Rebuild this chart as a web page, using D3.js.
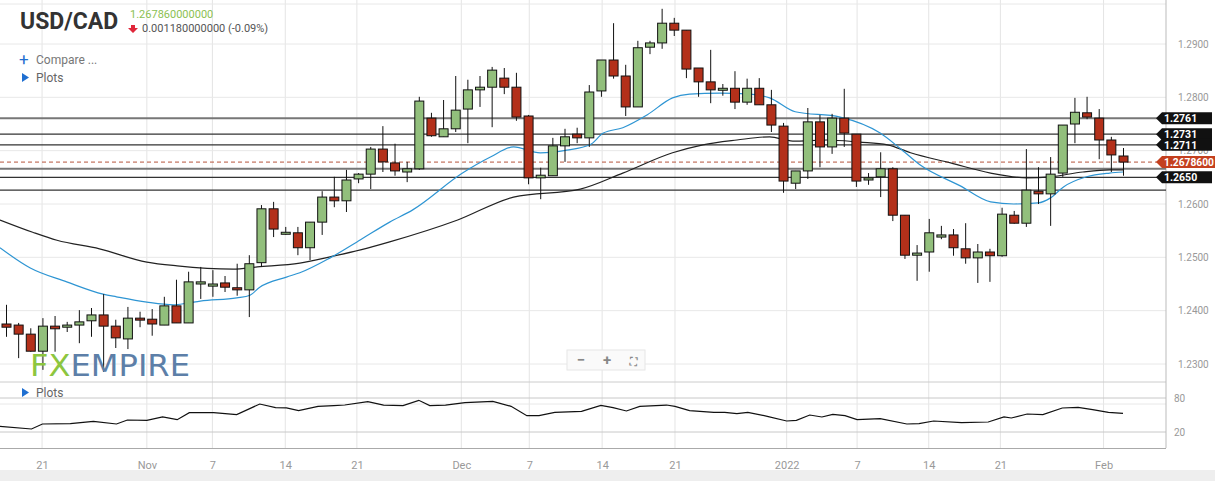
<!DOCTYPE html>
<html>
<head>
<meta charset="utf-8">
<script src="https://cdn.jsdelivr.net/npm/d3@7"></script>
<style>
  body { margin: 0; background: #fff; font-family: Roboto, "Noto Sans", sans-serif; }
  svg text { font-family: Roboto, "Noto Sans", sans-serif; }
</style>
</head>
<body>
<div id="chart"></div>
<script>
// OHLC, one candle per session (Sunday sessions included), 18 Oct 2021 .. 3 Feb 2022
var opens = [1.2375,1.2373,1.2356,1.2324,1.2371,1.2369,1.2373,1.2381,1.2392,1.2371,1.2347,1.2386,1.2384,1.2373,1.2409,1.2377,1.2450,1.2446,1.2452,1.2443,1.2439,1.2490,1.2591,1.2544,1.2546,1.2518,1.2566,1.2613,1.2606,1.2647,1.2656,1.2703,1.2677,1.2660,1.2666,1.2761,1.2726,1.2741,1.2778,1.2814,1.2819,1.2836,1.2819,1.2765,1.2649,1.2653,1.2709,1.2731,1.2724,1.2812,1.2870,1.2840,1.2782,1.2894,1.2902,1.2939,1.2926,1.2855,1.2829,1.2814,1.2817,1.2791,1.2817,1.2786,1.2746,1.2639,1.2662,1.2754,1.2707,1.2761,1.2731,1.2645,1.2651,1.2666,1.2579,1.2504,1.2510,1.2538,1.2542,1.2516,1.2499,1.2510,1.2503,1.2579,1.2564,1.2624,1.2619,1.2658,1.2750,1.2771,1.2761,1.2720,1.2690];
var highs = [1.2411,1.2377,1.2367,1.2386,1.2390,1.2379,1.2401,1.2405,1.2431,1.2383,1.2407,1.2398,1.2403,1.2426,1.2458,1.2473,1.2482,1.2476,1.2465,1.2488,1.2504,1.2598,1.2604,1.2557,1.2557,1.2566,1.2624,1.2651,1.2664,1.2658,1.2707,1.2746,1.2713,1.2679,1.2801,1.2771,1.2795,1.2840,1.2833,1.2840,1.2857,1.2855,1.2846,1.2767,1.2668,1.2724,1.2741,1.2743,1.2823,1.2870,1.2939,1.2861,1.2906,1.2906,1.2966,1.2949,1.2926,1.2855,1.2889,1.2825,1.2849,1.2835,1.2836,1.2814,1.2752,1.2662,1.2780,1.2767,1.2769,1.2816,1.2731,1.2658,1.2697,1.2669,1.2579,1.2523,1.2572,1.2559,1.2553,1.2564,1.2525,1.2516,1.2593,1.2587,1.2703,1.2669,1.2688,1.2748,1.2799,1.2801,1.2778,1.2726,1.2705];
var lows = [1.2351,1.2311,1.2323,1.2289,1.2323,1.2360,1.2339,1.2351,1.2285,1.2330,1.2328,1.2369,1.2353,1.2373,1.2377,1.2377,1.2422,1.2426,1.2435,1.2428,1.2388,1.2482,1.2538,1.2542,1.2504,1.2495,1.2542,1.2594,1.2585,1.2639,1.2628,1.2660,1.2653,1.2641,1.2664,1.2726,1.2726,1.2735,1.2714,1.2782,1.2744,1.2806,1.2756,1.2637,1.2609,1.2653,1.2679,1.2714,1.2707,1.2801,1.2835,1.2765,1.2782,1.2881,1.2891,1.2915,1.2836,1.2801,1.2789,1.2803,1.2778,1.2786,1.2786,1.2735,1.2621,1.2628,1.2647,1.2669,1.2694,1.2707,1.2632,1.2636,1.2613,1.2568,1.2497,1.2456,1.2473,1.2534,1.2503,1.2488,1.2452,1.2454,1.2501,1.2563,1.2557,1.2600,1.2559,1.2651,1.2714,1.2759,1.2684,1.2660,1.2653];
var closes = [1.2369,1.2356,1.2324,1.2371,1.2366,1.2373,1.2379,1.2392,1.2371,1.2349,1.2386,1.2383,1.2375,1.2409,1.2377,1.2454,1.2454,1.2450,1.2444,1.2439,1.2488,1.2591,1.2553,1.2547,1.2518,1.2566,1.2613,1.2606,1.2645,1.2656,1.2703,1.2679,1.2662,1.2666,1.2793,1.2728,1.2741,1.2776,1.2814,1.2819,1.2851,1.2819,1.2763,1.2649,1.2654,1.2709,1.2726,1.2724,1.2810,1.2870,1.2840,1.2782,1.2893,1.2902,1.2939,1.2926,1.2853,1.2829,1.2814,1.2817,1.2791,1.2817,1.2786,1.2748,1.2643,1.2662,1.2754,1.2707,1.2761,1.2733,1.2643,1.2649,1.2666,1.2579,1.2504,1.2508,1.2546,1.2542,1.2518,1.2499,1.2510,1.2503,1.2581,1.2564,1.2626,1.2619,1.2656,1.2748,1.2772,1.2763,1.2720,1.2692,1.26786];

// moving averages at candle positions
var fastIdx = [-0.5,2,5,8,9.1,11.6,13.8,14.9,16,19,20.1,20.9,23.1,24.2,26.7,29.2,31.6,33.5,37.6,39.9,41.8,44,46.2,48.1,49.2,50.8,52.8,54.9,56.3,58.8,61.3,62.9,65,68.7,72,73.6,75.3,78.6,81.1,83,85,86,87.1,89,90.9,92];
var fastVal = [1.2518,1.2480,1.2454,1.2431,1.2426,1.2416,1.2411,1.2414,1.2418,1.2424,1.2429,1.2444,1.2463,1.2471,1.2499,1.2533,1.2566,1.2589,1.2658,1.2688,1.2707,1.2696,1.2701,1.2711,1.2733,1.2743,1.2767,1.2799,1.2806,1.2808,1.2806,1.2799,1.2773,1.2763,1.2733,1.2705,1.2673,1.2634,1.2604,1.2600,1.2602,1.2611,1.2632,1.2651,1.2658,1.2660];
var slowIdx = [-0.5,2.2,4.2,7.7,11.6,14.1,18.7,20.7,24.2,26.7,29.2,31.6,37.2,41.8,47.3,50.8,54.9,57.4,60.2,62.9,64.8,67.6,70.3,72.6,74.5,77.8,81.1,84.1,86,88.7,90.9,92];
var slowVal = [1.2570,1.2547,1.2532,1.2516,1.2491,1.2484,1.2478,1.2482,1.2489,1.2501,1.2514,1.2529,1.2570,1.2613,1.2628,1.2658,1.2696,1.2711,1.2720,1.2726,1.2718,1.2720,1.2716,1.2711,1.2696,1.2677,1.2658,1.2649,1.2651,1.2660,1.2664,1.2664];

// lower oscillator
var oscIdx = [-0.5,2.1,3,5.3,7.2,9.1,10,11.6,12.9,14.1,15.1,17.1,19,20.9,22.2,23.1,24.1,25.7,27,27.9,29.8,31.1,32.7,34,34.9,36.2,37.8,40.1,41.6,42.9,43.9,45.2,47.4,49,50,51.1,52.2,54.4,55.1,56.3,58.3,59.2,60.2,61.1,62.7,64.3,65.1,66.2,67.2,68.1,69.1,70.1,72,74.2,75.2,76.4,78.7,80.9,82.2,82.8,84.1,85.4,87,88.3,89.5,90.8,92];
var oscVal = [30,25.3,34.1,34.7,38.8,34.1,41.2,40.6,46.5,41.8,54.1,54.1,50.6,69.4,62.9,62.4,57.7,65.3,66.5,67.6,73.5,67.6,66.5,75.9,66.5,67.6,71.8,74.1,65.3,48.8,48.8,54.7,56.5,67.1,62.9,57.1,65.3,67.6,65.3,57.7,54.7,54.7,52.4,54.7,47.7,39.4,40.6,50,46.5,51.2,48.8,41.8,43.5,34.1,34.7,39.4,36.5,37.6,46.5,44.7,51.8,50.6,62.4,63.5,59.4,54.7,52.9];

// support / resistance levels
var levels = [1.2761, 1.2731, 1.2711, 1.2666, 1.2650, 1.2626];
var levelLabels = ['1.2761', '1.2731', '1.2711', '', '1.2650', ''];
var lastPrice = 1.26786;

var priceTicks = [1.23, 1.24, 1.25, 1.26, 1.27, 1.28, 1.29];
var oscTicks = [20, 80];
var dateTickIdx = [2.97, 11.6, 17.0, 23.0, 28.9, 37.5, 43.1, 49.1, 55.1, 64.3, 70.1, 76.0, 81.9, 90.4];
var dateTickLabels = ['21', 'Nov', '7', '14', '21', 'Dec', '7', '14', '21', '2022', '7', '14', '21', 'Feb'];

var W = 1215, H = 481, plotR = 1166;

var svg = d3.select('#chart').append('svg')
    .attr('width', W).attr('height', H);

var x = d3.scaleLinear().domain([0, 92]).range([6, 1123]);
var y = d3.scaleLinear().domain([1.23, 1.29]).range([364, 44]);
var yo = d3.scaleLinear().domain([20, 80]).range([432, 398]);

// grid
svg.append('g').selectAll('line').data(dateTickIdx).join('line')
    .attr('x1', d => x(d)).attr('x2', d => x(d))
    .attr('y1', 0).attr('y2', 448)
    .attr('stroke', '#e4e4e4');
svg.append('g').selectAll('line').data(priceTicks.concat([1.2975, 1.2225])).join('line')
    .attr('x1', 0).attr('x2', plotR)
    .attr('y1', d => y(d)).attr('y2', d => y(d))
    .attr('stroke', '#e8e8e8');
svg.append('g').selectAll('line').data(oscTicks).join('line')
    .attr('x1', 0).attr('x2', plotR)
    .attr('y1', d => yo(d)).attr('y2', d => yo(d))
    .attr('stroke', '#c8c8c8');

// panel borders
svg.append('line').attr('x1', 0).attr('x2', plotR).attr('y1', 382).attr('y2', 382).attr('stroke', '#ccc');
svg.append('line').attr('x1', 0).attr('x2', plotR).attr('y1', 448.5).attr('y2', 448.5).attr('stroke', '#aaa');
svg.append('line').attr('x1', plotR).attr('x2', plotR).attr('y1', 0).attr('y2', 448).attr('stroke', '#bbb');
svg.append('rect').attr('x', 0).attr('y', 470).attr('width', W).attr('height', 11).attr('fill', '#eeeeee');

// levels
svg.append('g').selectAll('line').data(levels).join('line')
    .attr('x1', 0).attr('x2', plotR)
    .attr('y1', d => y(d)).attr('y2', d => y(d))
    .attr('stroke', (d, i) => (i === 0 || i === 3) ? '#777' : '#333')
    .attr('stroke-width', (d, i) => (i === 0 || i === 3) ? 2 : 1.2);
svg.append('line').attr('x1', 0).attr('x2', plotR)
    .attr('y1', y(lastPrice)).attr('y2', y(lastPrice))
    .attr('stroke', '#b5533c').attr('stroke-dasharray', '4,3');

// moving averages
var line = d3.line().x(d => x(d[0])).y(d => y(d[1])).curve(d3.curveMonotoneX);
svg.append('path').datum(slowIdx.map((d, i) => [d, slowVal[i]]))
    .attr('d', line).attr('fill', 'none').attr('stroke', '#222').attr('stroke-width', 1.2);
svg.append('path').datum(fastIdx.map((d, i) => [d, fastVal[i]]))
    .attr('d', line).attr('fill', 'none').attr('stroke', '#2e95d3').attr('stroke-width', 1.2);

// candles
var candles = svg.append('g').selectAll('g').data(opens).join('g');
candles.append('line')
    .attr('x1', (d, i) => x(i) + 0.5).attr('x2', (d, i) => x(i) + 0.5)
    .attr('y1', (d, i) => y(highs[i])).attr('y2', (d, i) => y(lows[i]))
    .attr('stroke', '#111');
candles.append('rect')
    .attr('x', (d, i) => x(i) - 4).attr('width', 9)
    .attr('y', (d, i) => y(Math.max(d, closes[i])))
    .attr('height', (d, i) => Math.max(2, Math.abs(y(d) - y(closes[i]))))
    .attr('fill', (d, i) => closes[i] >= d ? '#92bf7c' : '#b3301a')
    .attr('stroke', '#111').attr('stroke-width', 1);

// oscillator
svg.append('path').datum(oscIdx.map((d, i) => [d, oscVal[i]]))
    .attr('d', d3.line().x(d => x(d[0])).y(d => yo(d[1])))
    .attr('fill', 'none').attr('stroke', '#111').attr('stroke-width', 1.2);

// axes
var ya = svg.append('g').attr('transform', 'translate(' + plotR + ',0)')
    .call(d3.axisRight(y).tickValues(priceTicks).tickFormat(d3.format('.4f')).tickSize(0).tickPadding(12));
ya.select('.domain').remove();
ya.selectAll('text').attr('fill', '#999').style('font-size', '10px');
var yoa = svg.append('g').attr('transform', 'translate(' + plotR + ',0)')
    .call(d3.axisRight(yo).tickValues(oscTicks).tickSize(0).tickPadding(8));
yoa.select('.domain').remove();
yoa.selectAll('text').attr('fill', '#999').style('font-size', '10px');
var xa = svg.append('g').attr('transform', 'translate(0,455)')
    .call(d3.axisBottom(x).tickValues(dateTickIdx).tickFormat((d, i) => dateTickLabels[i]).tickSize(0).tickPadding(6));
xa.select('.domain').remove();
xa.selectAll('text').attr('fill', '#999').style('font-size', '11px');

// price tags
function tag(price, text, fill, w){
    var ty = y(price);
    svg.append('path')
        .attr('d', 'M' + (plotR - 10) + ' ' + ty + ' l6 -6 h' + w + ' v12 h-' + w + ' z')
        .attr('fill', fill);
    svg.append('text').attr('x', plotR - 2).attr('y', ty + 4)
        .attr('fill', '#fff').style('font-size', '10.5px').style('font-weight', 'bold')
        .attr('textLength', text.length > 6 ? 50 : 0).attr('lengthAdjust', 'spacingAndGlyphs')
        .text(text);
}
levels.forEach((d, i) => { if (levelLabels[i]) tag(d, levelLabels[i], '#111', 50); });
tag(lastPrice, '1.2678600', '#c4401f', 60);

// header
svg.append('text').attr('x', 20).attr('y', 29).attr('fill', '#333')
    .style('font-size', '23px').style('font-weight', 'bold').text('USD/CAD');
svg.append('text').attr('x', 130).attr('y', 18).attr('fill', '#8cc152')
    .style('font-size', '11px').text('1.267860000000');
svg.append('path').attr('d', 'M131 25 h4 v3 h3 l-5 5 l-5 -5 h3 z').attr('fill', '#e0263a');
svg.append('text').attr('x', 142).attr('y', 32).attr('fill', '#555')
    .style('font-size', '11px').text('0.001180000000 (-0.09%)');
svg.append('text').attr('x', 19).attr('y', 65).attr('fill', '#1f6fd1')
    .style('font-size', '17px').text('+');
svg.append('text').attr('x', 36).attr('y', 64).attr('fill', '#777')
    .style('font-size', '12px').text('Compare ...');
[82, 397].forEach(function(ty){
    svg.append('path').attr('d', 'M22 ' + (ty - 9) + ' l7 4.5 l-7 4.5 z').attr('fill', '#1f6fd1');
    svg.append('text').attr('x', 36).attr('y', ty).attr('fill', '#666')
        .style('font-size', '12px').text('Plots');
});

// watermark
var wm = svg.append('text').attr('x', 30).attr('y', 376)
    .style('font-size', '31px').style('font-family', '"Liberation Sans Narrow", "DejaVu Sans Condensed", sans-serif')
    .attr('textLength', 160).attr('lengthAdjust', 'spacingAndGlyphs');
wm.append('tspan').attr('fill', '#8dc63f').text('FX');
wm.append('tspan').attr('fill', '#5d7fa8').text('EMPIRE');

// zoom controls
svg.append('rect').attr('x', 567).attr('y', 350).attr('width', 78).attr('height', 20)
    .attr('fill', '#fafafa').attr('stroke', '#e6e6e6');
['−', '+', '⛶'].forEach(function(s, i){
    svg.append('text').attr('x', 581 + i * 26).attr('y', 365).attr('text-anchor', 'middle')
        .attr('fill', '#888').style('font-size', i === 2 ? '10px' : '15px').style('font-weight', 'bold').text(s);
});
</script>
</body>
</html>
